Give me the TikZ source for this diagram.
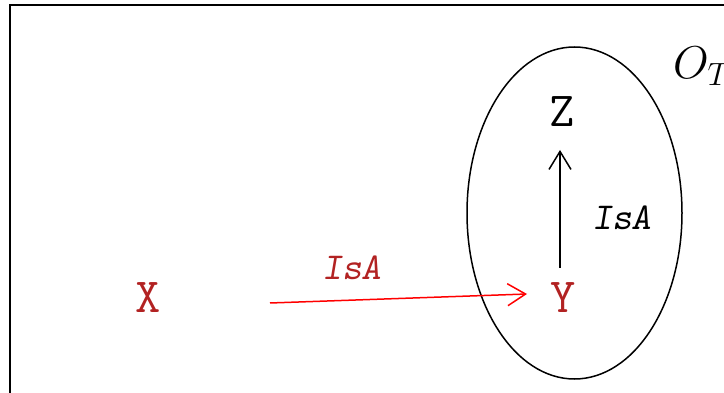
\RequirePackage{fix-cm}
\documentclass[tikz,border=0pt]{standalone}
\usepackage{fontspec}
\usetikzlibrary{arrows.meta,calc}
\definecolor{dred}{RGB}{178,34,34}
\tikzset{
  term/.style={font=\ttfamily\fontsize{49}{52}\selectfont, inner sep=0pt},
  rel/.style={font=\ttfamily\slshape\fontsize{38}{42}\selectfont, inner sep=0pt},
  isa/.style={-{Straight Barb[length=18pt,width=22pt,line width=1.5pt]}, line width=1.5pt},
}
\begin{document}
\begin{tikzpicture}[x=1pt,y=-1pt]
\useasboundingbox (0,0) rectangle (724,393);
\draw[line width=2pt] (9.5,420) -- (9.5,5) -- (740,5);
\draw[line width=1.5pt] (574.5,213) ellipse [x radius=107.5, y radius=166];
\node[font=\fontsize{46}{48}\selectfont, anchor=west, inner sep=0pt] (OT) at (673,66) {$O_T$};
\node[term, text=dred] (X) at (148,298) {X};
\node[term, text=dred] (Y) at (563,298) {Y};
\node[term] (Z) at (562,112) {Z};
\draw[isa, red] ($(X.center)+(122,5)$) -- ($(Y.center)+(-36,-4)$);
\node[rel, text=dred] (l1) at (352,268) {IsA};
\draw[isa] ($(Y.center)+(-3,-30)$) -- ($(Z.center)+(-2,38)$);
\node[rel] (l2) at (622,218) {IsA};
\end{tikzpicture}
\end{document}
